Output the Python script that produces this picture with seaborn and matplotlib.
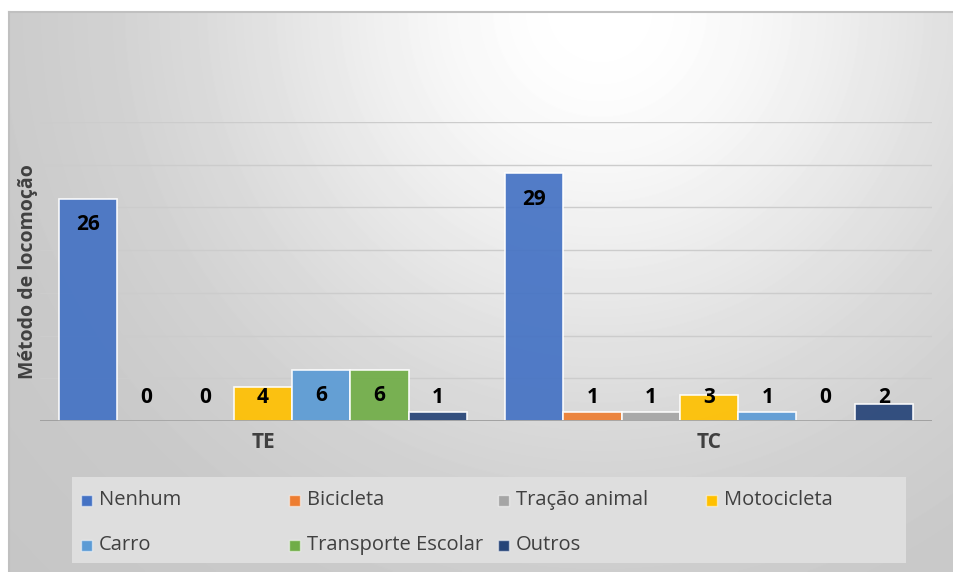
import numpy as np
import pandas as pd
import matplotlib
matplotlib.use("Agg")
import matplotlib.pyplot as plt
import seaborn as sns
from matplotlib.patches import Rectangle

# dados do gráfico
grupos = ["TE", "TC"]
metodos = ["Nenhum", "Bicicleta", "Tração animal", "Motocicleta",
           "Carro", "Transporte Escolar", "Outros"]
valores_te = [26, 0, 0, 4, 6, 6, 1]
valores_tc = [29, 1, 1, 3, 1, 0, 2]
cores = ["#4472C4", "#ED7D31", "#A5A5A5", "#FFC000",
         "#5B9BD5", "#70AD47", "#264478"]

df = pd.DataFrame({
    "grupo": np.repeat(grupos, len(metodos)),
    "metodo": metodos * len(grupos),
    "valor": valores_te + valores_tc,
})

sns.set_theme(style="white")
plt.rcParams['font.family'] = ['Open Sans', 'DejaVu Sans']

W, H = 954, 572
fig = plt.figure(figsize=(W / 100, H / 100), dpi=100)
fig.patch.set_facecolor("white")

# fundo com gradiente radial (área do gráfico)
bg = fig.add_axes([9 / W, 0, 1 - 9 / W, (H - 12) / H])
xx, yy = np.meshgrid(np.arange(9, W), np.arange(12, H))
d = np.hypot(xx - 600, yy - 10)
cinza = (255 - 58 * (1 - np.exp(-(d / 400) ** 2))) / 255
bg.imshow(cinza, cmap="gray", vmin=0, vmax=1, aspect="auto",
          extent=[0, 1, 0, 1], interpolation="bilinear")
bg.set_xticks([])
bg.set_yticks([])
for lado in ["right", "bottom"]:
    bg.spines[lado].set_visible(False)
for lado in ["top", "left"]:
    bg.spines[lado].set_color("#c0c0c0")
    bg.spines[lado].set_linewidth(1.5)
bg.set_zorder(-5)

# eixo principal
ax = fig.add_axes([40 / W, (H - 421) / H, 892 / W, 299 / H])
ax.set_facecolor("none")
sns.barplot(data=df, x="grupo", y="valor", hue="metodo", hue_order=metodos,
            palette=cores, width=0.915, saturation=1, legend=False, ax=ax,
            edgecolor=(1, 1, 1, 0.45), linewidth=1.2, alpha=0.92, zorder=3)

ax.set_ylim(0, 35)
ax.set_xlim(-0.5, 1.5)
ax.set_yticks(range(0, 36, 5))
ax.set_yticklabels([])
ax.yaxis.grid(True, color="#cccccc", linewidth=1)
ax.set_axisbelow(True)
for s in ax.spines.values():
    s.set_visible(False)
ax.axhline(0, color="#9a9a9a", linewidth=1.2, zorder=4)
ax.tick_params(axis="both", length=0)
ax.tick_params(axis="x", pad=8)
for lbl in ax.get_xticklabels():
    lbl.set_fontweight("bold")
    lbl.set_fontsize(15)
    lbl.set_color("#404040")
ax.set_xlabel("")
ax.set_ylabel("Método de locomoção", fontsize=14, fontweight="bold",
              color="#404040")
ax.yaxis.set_label_coords(-0.002, 0.5)

# rótulos de dados (dentro do topo da barra)
for cont in ax.containers:
    for barra in cont:
        h = barra.get_height()
        xc = barra.get_x() + barra.get_width() / 2
        ax.text(xc, max(h - 3.05, 2.8), f"{h:.0f}", ha="center", va="center",
                fontsize=15, fontweight="bold", color="black", zorder=6)

# legenda
lg = fig.add_axes([72 / W, (H - 563) / H, 834 / W, 86 / H])
lg.set_facecolor("#dedede")
lg.set_xlim(72, 906)
lg.set_ylim(563, 477)
lg.set_xticks([])
lg.set_yticks([])
for s in lg.spines.values():
    s.set_visible(False)
for i, (nome, cor) in enumerate(zip(metodos, cores)):
    col, lin = i % 4, i // 4
    x0 = 81 + 208.5 * col
    y0 = 500 + 45 * lin
    lg.add_patch(Rectangle((x0, y0 - 5.5), 11, 11, facecolor=cor,
                           edgecolor=(1, 1, 1, 0.5), linewidth=1))
    lg.text(x0 + 18, y0, nome, ha="left", va="center", fontsize=14.5,
            color="#404040")

fig.savefig("out.png", dpi=100)
